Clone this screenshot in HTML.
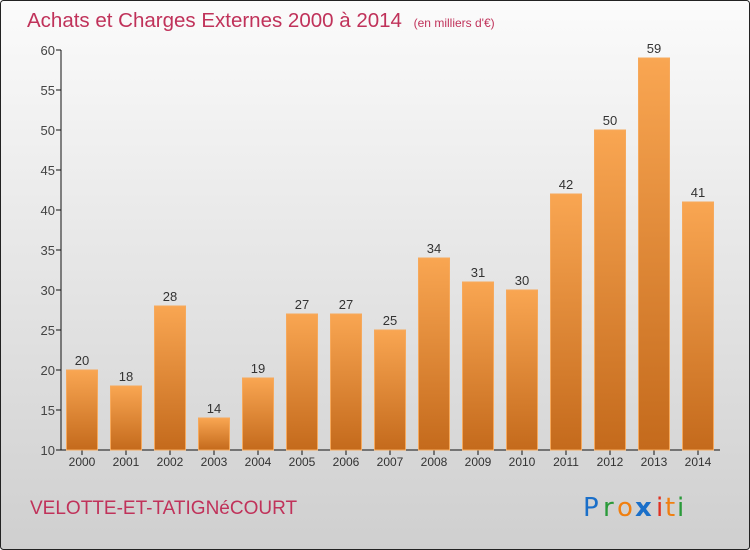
<!DOCTYPE html>
<html><head><meta charset="utf-8"><style>
body{margin:0;width:750px;height:550px;overflow:hidden}
svg{display:block;font-family:"Liberation Sans",sans-serif}
</style></head><body>
<svg width="750" height="550">
<defs>
<linearGradient id="bg" x1="0" y1="0" x2="0" y2="1"><stop offset="0" stop-color="#fbfbfb"/><stop offset="1" stop-color="#cfcfcf"/></linearGradient>
<linearGradient id="bar" x1="0" y1="0" x2="0" y2="1"><stop offset="0" stop-color="#f9a652"/><stop offset="1" stop-color="#c46a1c"/></linearGradient>
</defs>
<rect x="0.5" y="0.5" width="749" height="549" rx="3" fill="url(#bg)" stroke="#222"/>
<text x="27" y="27" font-size="20.5" fill="#c0325a">Achats et Charges Externes 2000 à 2014 <tspan font-size="12" dx="6">(en milliers d'€)</tspan></text>
<g id="axes"></g>
<g id="bars"></g>
<text x="30" y="514" font-size="19" fill="#c0325a" letter-spacing="0">VELOTTE-ET-TATIGNéCOURT</text>
<g font-size="26" font-family="'DejaVu Sans',sans-serif">
<text x="583" y="516" fill="#1a6fc9">P</text><text x="603" y="516" fill="#2a9a3a">r</text><text x="617" y="516" fill="#f07f10">o</text><text x="635" y="516" fill="#1a6fc9" font-weight="bold">x</text><text x="656" y="516" fill="#e03020">i</text><text x="665" y="516" fill="#f07f10">t</text><text x="677" y="516" fill="#2a9a3a">i</text>
</g>
</svg>
<script>
const years=["2000","2001","2002","2003","2004","2005","2006","2007","2008","2009","2010","2011","2012","2013","2014"];
const values=[20,18,28,14,19,27,27,25,34,31,30,42,50,59,41];
const yTicks=[10,15,20,25,30,35,40,45,50,55,60];
const NS="http://www.w3.org/2000/svg";
const y=v=>450-(v-10)*8;
const x=i=>82+i*44;
function mk(tag,attrs,parent,text){const e=document.createElementNS(NS,tag);for(const k in attrs)e.setAttribute(k,attrs[k]);if(text!==undefined)e.textContent=text;parent.appendChild(e);return e;}
const ax=document.getElementById('axes'),bg=document.getElementById('bars');
let e=mk('line',{x1:61,y1:50,x2:61,y2:450,stroke:'#111'},ax);


e=mk('line',{x1:61,y1:450,x2:720,y2:450,stroke:'#111'},ax);


yTicks.forEach(t=>{
 mk('line',{x1:56,y1:y(t),x2:61,y2:y(t),stroke:'#111'},ax);
 const tx=mk('text',{x:55,y:y(t)+5,'text-anchor':'end','font-size':13,fill:'#444'},ax,t);
 
 
});
years.forEach((yr,i)=>{
 const v=values[i];
 mk('line',{x1:x(i),y1:450,x2:x(i),y2:455,stroke:'#111'},ax);
 const tl=mk('text',{x:x(i),y:466,'text-anchor':'middle','font-size':12,fill:'#333'},ax,yr);
 
 
 const r=mk('rect',{x:x(i)-15.5,y:y(v),width:31,height:450-y(v),fill:'url(#bar)',stroke:'#f6a95c','stroke-width':1},bg);
 
 
 const lb=mk('text',{x:x(i),y:y(v)-5,'text-anchor':'middle','font-size':13,fill:'#333'},bg,v);
 
 
});
</script>
</body></html>
